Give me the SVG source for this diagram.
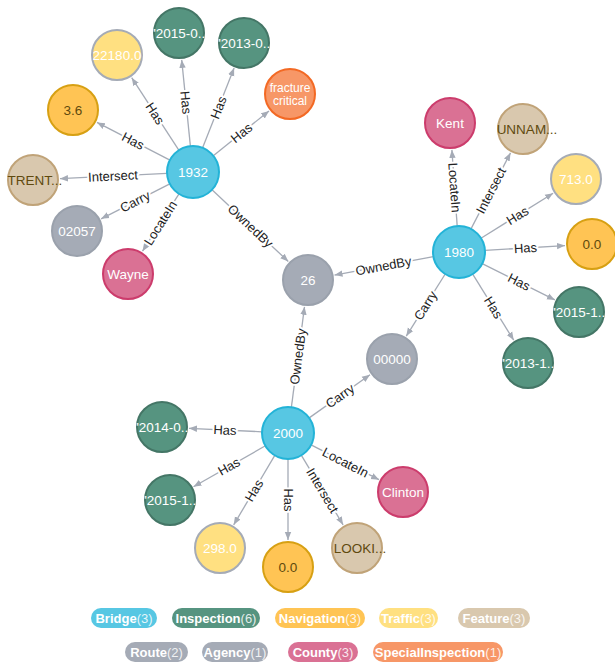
<svg xmlns="http://www.w3.org/2000/svg" width="615" height="662" viewBox="0 0 615 662">
<style>
.e{stroke:#A5ABB6;stroke-width:1.3;fill:none;marker-end:url(#ar)}
.el{font-family:"Liberation Sans",Arial,sans-serif;font-size:13px;fill:#222;text-anchor:middle;dominant-baseline:central;stroke:#fff;stroke-width:4px;paint-order:stroke;stroke-linejoin:round}
.n circle{stroke-width:2}
.n text{font-family:"Liberation Sans",Arial,sans-serif;font-size:13.5px;text-anchor:middle;dominant-baseline:central;fill:#fff}
.n text.sm{font-size:12px}
.br circle{fill:#57C7E3;stroke:#23B3D7}
.in circle{fill:#569480;stroke:#447666}
.nv circle{fill:#FFC454;stroke:#D7A013}
.nv text,.ft text{fill:#604A0E}
.tr circle{fill:#FFE081;stroke:#A5ABB6}
.ft circle{fill:#D9C8AE;stroke:#C0A378}
.ro circle{fill:#A5ABB6;stroke:#9AA1AC}
.co circle{fill:#DA7194;stroke:#CC3C6C}
.sp circle{fill:#F79767;stroke:#F36924}
.lg text{font-family:"Liberation Sans",Arial,sans-serif;font-size:13px;font-weight:bold;text-anchor:middle;dominant-baseline:central;fill:#fff}
.lg tspan{font-weight:normal;fill-opacity:0.85}
</style>
<defs>
<marker id="ar" viewBox="0 0 10 10" refX="10" refY="5" markerWidth="8" markerHeight="8" markerUnits="userSpaceOnUse" orient="auto">
<path d="M0,1 L10,5 L0,9 z" fill="#A5ABB6"/>
</marker>
</defs>
<rect width="615" height="662" fill="#fff"/>
<g id="edges">
<line class="e" x1="178.8" y1="150.2" x2="131.7" y2="77.7"/>
<line class="e" x1="190.4" y1="146.1" x2="181.7" y2="59.9"/>
<line class="e" x1="202.6" y1="147.8" x2="234.1" y2="68.1"/>
<line class="e" x1="213.3" y1="155.7" x2="269" y2="110.9"/>
<line class="e" x1="169.9" y1="160.1" x2="97" y2="122.4"/>
<line class="e" x1="167" y1="173.3" x2="60" y2="178.7"/>
<line class="e" x1="169.8" y1="183.8" x2="101.1" y2="218.8"/>
<line class="e" x1="179" y1="193.9" x2="142.5" y2="251.2"/>
<line class="e" x1="212" y1="189.8" x2="288.3" y2="261.5"/>
<line class="e" x1="433.4" y1="256.7" x2="334.5" y2="275.1"/>
<line class="e" x1="457.2" y1="226.1" x2="451.9" y2="149.9"/>
<line class="e" x1="471" y1="228.9" x2="510.5" y2="152.9"/>
<line class="e" x1="481" y1="238.2" x2="553.1" y2="193.3"/>
<line class="e" x1="485" y1="250.4" x2="565" y2="245.6"/>
<line class="e" x1="482.2" y1="263.6" x2="554.9" y2="299.9"/>
<line class="e" x1="472.7" y1="274.1" x2="513.7" y2="340.1"/>
<line class="e" x1="445.2" y1="274" x2="406.3" y2="336.1"/>
<line class="e" x1="291.4" y1="407.2" x2="304.5" y2="306.8"/>
<line class="e" x1="309.2" y1="417.9" x2="370" y2="374.7"/>
<line class="e" x1="262" y1="431.8" x2="189" y2="428.3"/>
<line class="e" x1="265.4" y1="445.8" x2="193.5" y2="486.7"/>
<line class="e" x1="274.8" y1="455.4" x2="233.7" y2="524.8"/>
<line class="e" x1="288" y1="459" x2="288" y2="540"/>
<line class="e" x1="301.4" y1="455.3" x2="343.1" y2="524.8"/>
<line class="e" x1="311.1" y1="444.9" x2="379" y2="479.7"/>
<text class="el" transform="translate(155,113.5) rotate(57)">Has</text>
<text class="el" transform="translate(186,102.5) rotate(84.3)">Has</text>
<text class="el" transform="translate(218.5,107.5) rotate(-68.4)">Has</text>
<text class="el" transform="translate(241.5,133) rotate(-38.8)">Has</text>
<text class="el" transform="translate(133,141) rotate(27.3)">Has</text>
<text class="el" transform="translate(113,176) rotate(-2.9)">Intersect</text>
<text class="el" transform="translate(135,201.5) rotate(-27)">Carry</text>
<text class="el" transform="translate(160.5,223) rotate(-57.5)">LocateIn</text>
<text class="el" transform="translate(250.5,226) rotate(43.2)">OwnedBy</text>
<text class="el" transform="translate(383.5,266) rotate(-10.5)">OwnedBy</text>
<text class="el" transform="translate(454.5,187.5) rotate(86)">LocateIn</text>
<text class="el" transform="translate(491,190.5) rotate(-62.5)">Intersect</text>
<text class="el" transform="translate(517.5,215.5) rotate(-32)">Has</text>
<text class="el" transform="translate(525.5,248) rotate(-3.4)">Has</text>
<text class="el" transform="translate(519,282) rotate(26.6)">Has</text>
<text class="el" transform="translate(493.5,307.5) rotate(58.1)">Has</text>
<text class="el" transform="translate(425.5,305.5) rotate(-58)">Carry</text>
<text class="el" transform="translate(298,356.5) rotate(-82.6)">OwnedBy</text>
<text class="el" transform="translate(340,396) rotate(-35.4)">Carry</text>
<text class="el" transform="translate(225,430) rotate(2.7)">Has</text>
<text class="el" transform="translate(229,466.5) rotate(-29.6)">Has</text>
<text class="el" transform="translate(254,490.5) rotate(-59.4)">Has</text>
<text class="el" transform="translate(288,500) rotate(90)">Has</text>
<text class="el" transform="translate(322.5,490.5) rotate(59)">Intersect</text>
<text class="el" transform="translate(345.5,462.5) rotate(27.2)">LocateIn</text>
</g>
<g id="n1932" class="n br"><circle cx="193" cy="172" r="26"/><text x="193" y="172">1932</text></g>
<g id="n22180" class="n tr"><circle cx="117" cy="55" r="25"/><text x="117" y="55">22180.0</text></g>
<g id="n2015a" class="n in"><circle cx="179" cy="33" r="25"/><text x="180" y="33">"2015-0...</text></g>
<g id="n2013a" class="n in"><circle cx="244" cy="43" r="25"/><text x="245" y="43">"2013-0...</text></g>
<g id="nfrac" class="n sp"><circle cx="290" cy="94" r="25"/><text class="sm" x="290" y="87.5">fracture</text><text class="sm" x="290" y="100.5">critical</text></g>
<g id="n36" class="n nv"><circle cx="73" cy="110" r="25"/><text x="73" y="110">3.6</text></g>
<g id="ntrent" class="n ft"><circle cx="33" cy="180" r="25"/><text x="35" y="180">TRENT...</text></g>
<g id="n02057" class="n ro"><circle cx="77" cy="231" r="25"/><text x="77" y="231">02057</text></g>
<g id="nwayne" class="n co"><circle cx="128" cy="274" r="25"/><text x="128" y="274">Wayne</text></g>
<g id="n26" class="n ro"><circle cx="308" cy="280" r="25"/><text x="308" y="280">26</text></g>
<g id="n1980" class="n br"><circle cx="459" cy="252" r="26"/><text x="459" y="252">1980</text></g>
<g id="nkent" class="n co"><circle cx="450" cy="123" r="25"/><text x="450" y="123">Kent</text></g>
<g id="nunnam" class="n ft"><circle cx="523" cy="129" r="25"/><text x="527" y="129">UNNAM...</text></g>
<g id="n713" class="n tr"><circle cx="576" cy="179" r="25"/><text x="576" y="179">713.0</text></g>
<g id="n00r" class="n nv"><circle cx="592" cy="244" r="25"/><text x="592" y="244">0.0</text></g>
<g id="n2015r" class="n in"><circle cx="579" cy="312" r="25"/><text x="580" y="312">"2015-1...</text></g>
<g id="n2013r" class="n in"><circle cx="528" cy="363" r="25"/><text x="529" y="363">"2013-1...</text></g>
<g id="n00000" class="n ro"><circle cx="392" cy="359" r="25"/><text x="392" y="359">00000</text></g>
<g id="n2000" class="n br"><circle cx="288" cy="433" r="26"/><text x="288" y="433">2000</text></g>
<g id="n2014" class="n in"><circle cx="162" cy="427" r="25"/><text x="163" y="427">"2014-0...</text></g>
<g id="n2015b" class="n in"><circle cx="170" cy="500" r="25"/><text x="171" y="500">"2015-1...</text></g>
<g id="n298" class="n tr"><circle cx="220" cy="548" r="25"/><text x="220" y="548">298.0</text></g>
<g id="n00b" class="n nv"><circle cx="288" cy="567" r="25"/><text x="288" y="567">0.0</text></g>
<g id="nlooki" class="n ft"><circle cx="357" cy="548" r="25"/><text x="360" y="548">LOOKI...</text></g>
<g id="nclinton" class="n co"><circle cx="403" cy="492" r="25"/><text x="403" y="492">Clinton</text></g>
<g id="legend" class="lg">
<rect x="91" y="608" width="66" height="20" rx="10" fill="#57C7E3"/><text x="124" y="618">Bridge<tspan>(3)</tspan></text>
<rect x="172" y="608" width="88" height="20" rx="10" fill="#569480"/><text x="216" y="618">Inspection<tspan>(6)</tspan></text>
<rect x="275" y="608" width="90" height="20" rx="10" fill="#FFC454"/><text x="320" y="618" fill="#604A0E">Navigation<tspan>(3)</tspan></text>
<rect x="379" y="608" width="59" height="20" rx="10" fill="#FFE081"/><text x="408.5" y="618">Traffic<tspan>(3)</tspan></text>
<rect x="458" y="608" width="72" height="20" rx="10" fill="#D9C8AE"/><text x="494" y="618" fill="#604A0E">Feature<tspan>(3)</tspan></text>
<rect x="125" y="642" width="63" height="20" rx="10" fill="#A5ABB6"/><text x="156.5" y="652">Route<tspan>(2)</tspan></text>
<rect x="202" y="642" width="66" height="20" rx="10" fill="#A5ABB6"/><text x="235" y="652">Agency<tspan>(1)</tspan></text>
<rect x="288" y="642" width="70" height="20" rx="10" fill="#DA7194"/><text x="323" y="652">County<tspan>(3)</tspan></text>
<rect x="373" y="642" width="130" height="20" rx="10" fill="#F79767"/><text x="438" y="652">SpecialInspection<tspan>(1)</tspan></text>
</g>
</svg>
